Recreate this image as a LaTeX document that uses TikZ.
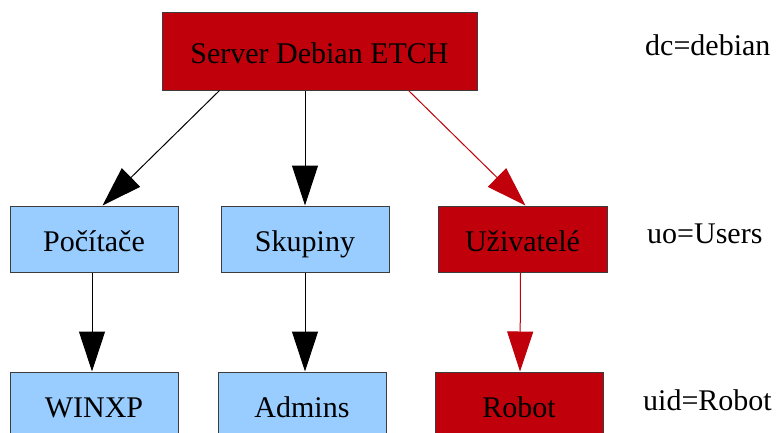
\documentclass[tikz,border=0pt]{standalone}
\usepackage{fontspec}
\setmainfont{Liberation Serif}
\usetikzlibrary{arrows.meta,calc}
\definecolor{boxred}{RGB}{192,0,11}
\definecolor{boxblue}{RGB}{153,204,255}
\definecolor{edgegray}{RGB}{60,60,60}
\tikzset{
  box/.style={draw=edgegray,line width=1pt,inner sep=0pt,
    font=\fontsize{30}{36}\selectfont,text height=24pt,text depth=0pt},
  redbox/.style={box,fill=boxred},
  bluebox/.style={box,fill=boxblue},
  blackarrow/.style={line width=1pt,draw=black,-{Triangle[length=40pt,width=26pt]}},
  redarrow/.style={line width=1pt,draw=boxred,-{Triangle[length=40pt,width=26pt]}},
  sidelabel/.style={anchor=base west,inner sep=0pt,font=\fontsize{30}{36}\selectfont}
}
\begin{document}
\begin{tikzpicture}[x=1pt,y=-1pt]
\useasboundingbox (0,0) rectangle (777,432);
\clip (0,0) rectangle (777,432);
\fill[white] (0,0) rectangle (777,432);
% nodes
\node[redbox,minimum width=315pt,minimum height=78pt] (srv) at (319.5,51) {Server Debian ETCH};
\node[bluebox,minimum width=168pt,minimum height=66pt] (poc) at (94,239) {Počítače};
\node[bluebox,minimum width=168pt,minimum height=66pt] (sku) at (305,239) {Skupiny};
\node[redbox,minimum width=169pt,minimum height=66pt] (uzi) at (522.5,239) {Uživatelé};
\node[bluebox,minimum width=168pt,minimum height=66pt] (win) at (94,405) {WINXP};
\node[bluebox,minimum width=168pt,minimum height=66pt] (adm) at (302,405) {Admins};
\node[redbox,minimum width=168pt,minimum height=66pt] (rob) at (519,405) {Robot};
% labels
\node[sidelabel] (ldc) at (645,55) {dc=debian};
\node[sidelabel] (luo) at (647,243) {uo=Users};
\node[sidelabel] (luid) at (643,410) {uid=Robot};
% connectors
\draw[blackarrow] ($(srv.south west)+(58,0)$) -- ($(poc.north west)+(93,0)$);
\draw[blackarrow] (sku.north |- srv.south) -- (sku.north);
\draw[redarrow] ($(srv.south west)+(247,0)$) -- ($(uzi.north west)+(88,0)$);
\draw[blackarrow] ($(poc.south)+(-2,0)$) -- ($(win.north)+(-2,0)$);
\draw[blackarrow] (sku.south) -- (sku.south |- adm.north);
\draw[redarrow] ($(uzi.south)+(-2,0)$) -- ($(rob.north)+(1,0)$);
\end{tikzpicture}
\end{document}
